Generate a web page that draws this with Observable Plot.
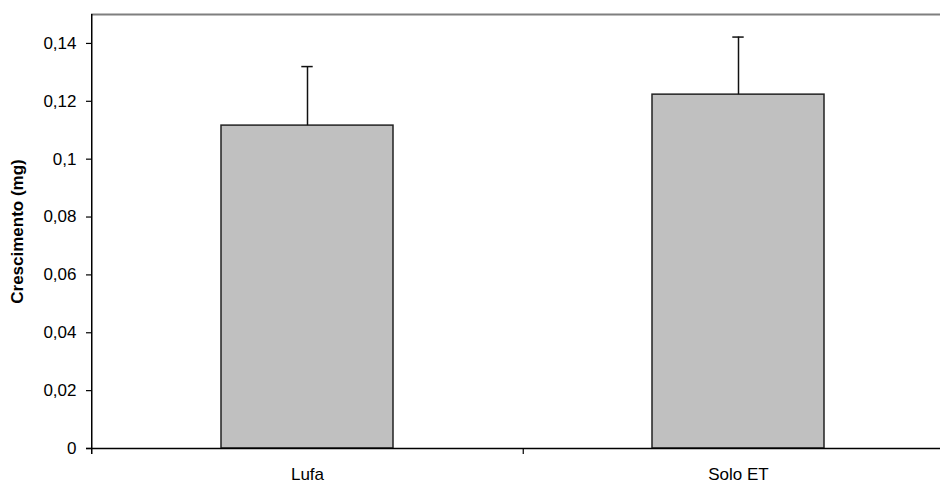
<!DOCTYPE html>
<html>
<head>
<meta charset="utf-8">
<script src="https://cdn.jsdelivr.net/npm/d3@7"></script>
<script src="https://cdn.jsdelivr.net/npm/@observablehq/plot@0.6"></script>
<style>
  html, body { margin: 0; padding: 0; background: white; overflow: hidden; }
</style>
</head>
<body>
<div id="chart"></div>
<script>
const categories = ["Lufa", "Solo ET"];
const values = [0.1116, 0.1223];
const errors = [0.0204, 0.0199];
const yTicks = [0, 0.02, 0.04, 0.06, 0.08, 0.1, 0.12, 0.14];
const yMax = 0.15;
const yLabel = "Crescimento (mg)";

const data = categories.map((c, i) => ({category: c, value: values[i], error: errors[i]}));

const X0 = 91, X1 = 954;
const step = (X1 - X0) / categories.length;
const bw = step * 0.4;
const capW = 12;
const fmt = d => String(d).replace(".", ",");

const chart = Plot.plot({
  width: 940,
  height: 483,
  marginLeft: 91,
  marginRight: 0,
  marginTop: 14,
  marginBottom: 35,
  style: {fontFamily: "'Liberation Sans', Arial, sans-serif", fontSize: "17px", color: "#000", background: "white", overflow: "visible"},
  x: {domain: categories, range: [X0, X1], padding: 0.6, paddingOuter: 0.3, axis: null},
  y: {domain: [0, yMax], axis: null},
  marks: [
    Plot.ruleY([yMax], {stroke: "#7f7f7f", strokeWidth: 2}),
    Plot.barY(data, {x: "category", y: "value", fill: "#c0c0c0", stroke: "#222", strokeWidth: 1.5}),
    Plot.ruleX(data, {x: "category", y1: "value", y2: d => d.value + d.error, stroke: "#111", strokeWidth: 1.5}),
    Plot.tickY(data, {x: "category", y: d => d.value + d.error, insetLeft: (bw - capW) / 2, insetRight: (bw - capW) / 2, stroke: "#111", strokeWidth: 1.5}),
    Plot.ruleY([0], {insetLeft: -5, stroke: "#000", strokeWidth: 1.5}),
    Plot.ruleX([categories[0]], {x: d => d, dx: -step / 2, insetBottom: -6, stroke: "#000", strokeWidth: 1.5}),
    Plot.ruleX(categories, {x: d => d, dx: step / 2, y1: 0, y2: 0, insetBottom: -6, stroke: "#000", strokeWidth: 1.2}),
    Plot.axisY(yTicks, {tickSize: 5, tickPadding: 10, tickFormat: fmt, label: null, strokeWidth: 1.2, fontSize: 17}),
    Plot.axisX(categories, {tickSize: 0, tickPadding: 19, label: null, fontSize: 17}),
    Plot.text([yLabel], {frameAnchor: "left", dx: -74, rotate: -90, textAnchor: "middle", lineAnchor: "middle", fontWeight: "bold", fontSize: 17})
  ]
});
document.getElementById("chart").appendChild(chart);
</script>
</body>
</html>
